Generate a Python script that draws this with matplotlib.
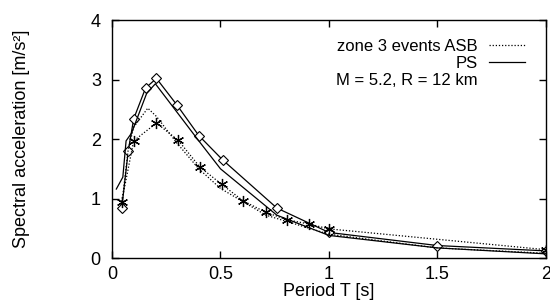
import matplotlib
matplotlib.use("Agg")
import matplotlib.pyplot as plt
from matplotlib.lines import Line2D

plt.rcParams['font.family'] = ['Liberation Sans', 'DejaVu Sans']

# Solid line with diamonds
T_diam = [0.045, 0.075, 0.10, 0.155, 0.205, 0.30, 0.40, 0.51, 0.76, 1.0, 1.5, 2.0]
A_diam = [0.84, 1.80, 2.34, 2.86, 3.02, 2.57, 2.06, 1.65, 0.84, 0.43, 0.21, 0.12]

# Plain solid line
T_solid = [0.02, 0.05, 0.065, 0.09, 0.16, 0.20, 0.30, 0.40, 0.50, 0.76, 1.0, 1.5, 2.0]
A_solid = [1.16, 1.36, 1.97, 2.10, 2.77, 2.93, 2.45, 1.97, 1.50, 0.72, 0.38, 0.17, 0.07]

# Dotted line with asterisks
T_ast = [0.045, 0.10, 0.205, 0.305, 0.405, 0.505, 0.605, 0.708, 0.805, 0.91, 1.0, 2.0]
A_ast = [0.95, 1.97, 2.27, 1.98, 1.53, 1.24, 0.96, 0.77, 0.645, 0.57, 0.49, 0.14]

# Plain dotted line
T_dot = [0.045, 0.075, 0.10, 0.165, 0.205, 0.30, 0.40, 0.50, 0.71, 1.0, 1.5, 2.0]
A_dot = [0.90, 1.83, 2.20, 2.52, 2.38, 1.93, 1.50, 1.17, 0.72, 0.40, 0.17, 0.08]

x_ticks = [0, 0.5, 1, 1.5, 2]
x_ticklabels = ['0', '0.5', '1', '1.5', '2']
y_ticks = [0, 1, 2, 3, 4]

fig = plt.figure(figsize=(5.5, 3.05), dpi=100)
ax = fig.add_axes([0.2036, 0.154, 0.7891, 0.780])

lw = 0.9
dot = (0, (1, 1.5))
ax.plot(T_diam, A_diam, color='black', lw=lw, ls='-', marker='D', ms=5,
        mfc='white', mec='black', mew=0.8)
ax.plot(T_solid, A_solid, color='black', lw=lw, ls='-')
ax.plot(T_ast, A_ast, color='black', lw=lw, ls=dot, marker=(6, 2, 0), ms=8,
        mec='black', mew=0.9)
ax.plot(T_dot, A_dot, color='black', lw=lw, ls=dot)

fs = 13
ax.set_xlim(0, 2)
ax.set_ylim(0, 4)
ax.set_xticks(x_ticks)
ax.set_xticklabels(x_ticklabels)
ax.set_yticks(y_ticks)
ax.tick_params(direction='in', top=True, right=True, length=5, width=1,
               labelsize=fs)
ax.tick_params(axis='x', pad=6)
ax.tick_params(axis='y', pad=8)
for s in ax.spines.values():
    s.set_linewidth(1)

ax.set_xlabel('Period T [s]', fontsize=fs, labelpad=0)
ax.set_ylabel('Spectral acceleration [m/s²]', fontsize=fs)
ax.yaxis.set_label_coords(-0.19, 0.5)

handles = [Line2D([], [], color='black', lw=lw, ls=dot),
           Line2D([], [], color='black', lw=lw, ls='-'),
           Line2D([], [], color='none', lw=0)]
labels = ['zone 3 events ASB', 'PS', 'M = 5.2, R = 12 km']
ax.legend(handles, labels, loc='upper right', bbox_to_anchor=(0.972, 0.955),
          frameon=False, markerfirst=False, fontsize=12, handlelength=2.2,
          handletextpad=0.65, labelspacing=0.12, borderpad=0.0)

fig.savefig('out.png', dpi=100)
